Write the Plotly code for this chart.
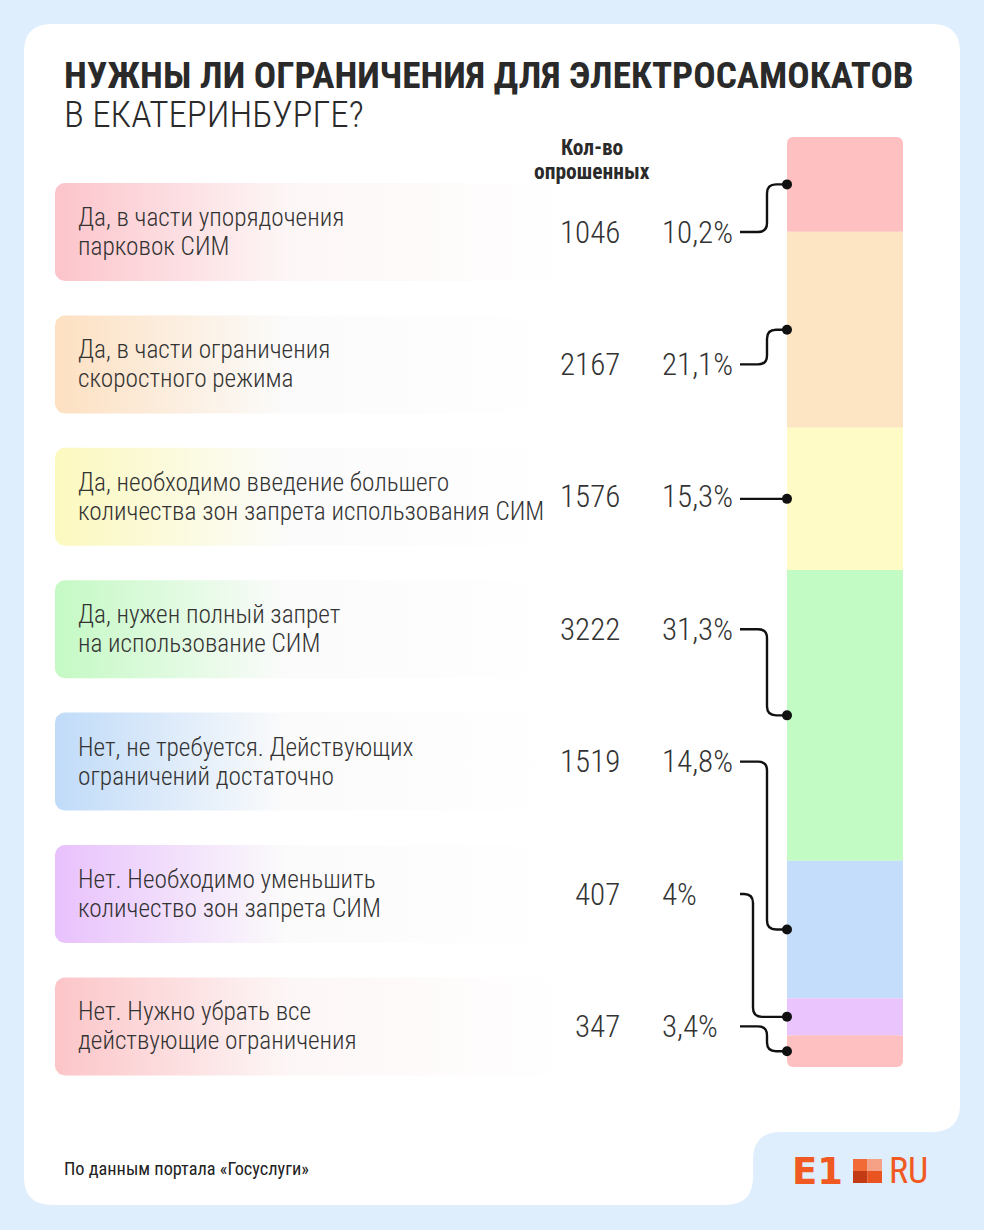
import numpy as np
import plotly.graph_objects as go

# ---------------- data ----------------
categories = [
    "Да, в части упорядочения<br>парковок СИМ",
    "Да, в части ограничения<br>скоростного режима",
    "Да, необходимо введение большего<br>количества зон запрета использования СИМ",
    "Да, нужен полный запрет<br>на использование СИМ",
    "Нет, не требуется. Действующих<br>ограничений достаточно",
    "Нет. Необходимо уменьшить<br>количество зон запрета СИМ",
    "Нет. Нужно убрать все<br>действующие ограничения",
]
respondents = [1046, 2167, 1576, 3222, 1519, 407, 347]
percent = [10.2, 21.1, 15.3, 31.3, 14.8, 4.0, 3.4]
percent_labels = ["10,2%", "21,1%", "15,3%", "31,3%", "14,8%", "4%", "3,4%"]

title_line1 = "НУЖНЫ ЛИ ОГРАНИЧЕНИЯ ДЛЯ ЭЛЕКТРОСАМОКАТОВ"
title_line2 = "В ЕКАТЕРИНБУРГЕ?"
column_header = ["Кол-во", "опрошенных"]
source_text = "По данным портала «Госуслуги»"

# ---------------- styles ----------------
W, H = 984, 1230
BG = "#dfeefc"
TEXT = "#333333"
FONT = "Roboto Condensed"
bar_colors = ["#fec0c1", "#fde5c3", "#fefbc6", "#c2fcc4", "#c3ddfa", "#eac4fd", "#fec0c1"]
box_colors = ["#fcc4cb", "#fde0c1", "#fcf9bf", "#c4f9c4", "#c0dbf9", "#e8c1fc", "#fcc5c8"]

BAR_TOP, BAR_BOTTOM = 137, 1067
BAR_LEFT, BAR_RIGHT = 787, 903
ROW0, ROW_STEP = 232, 132.4
BOX_LEFT, BOX_RIGHT, BOX_H = 55, 600, 98
turn_x = [767, 767, 767, 767, 767, 753, 767]
LINE_X0 = 740
LINE_GAP = 29

total = sum(percent)
k = total / (BAR_BOTTOM - BAR_TOP)  # y2 units per pixel

fig = go.Figure()

def rounded_rect(x0, y0, x1, y1, r, n=8):
    pts = []
    corners = [(x1 - r, y0 + r, -90, 0), (x1 - r, y1 - r, 0, 90),
               (x0 + r, y1 - r, 90, 180), (x0 + r, y0 + r, 180, 270)]
    for cx, cy, a0, a1 in corners:
        for a in np.linspace(np.radians(a0), np.radians(a1), n):
            pts.append((cx + r * np.cos(a), cy + r * np.sin(a)))
    pts.append(pts[0])
    xs, ys = zip(*pts)
    return list(xs), list(ys)

# card background
R = 28
CX0, CY0, CX1, CY1 = 24, 24, 960, 1132
NX, NY = 753, 1205
card_path = (
    f"M {CX0+R},{CY0} L {CX1-R},{CY0} Q {CX1},{CY0} {CX1},{CY0+R} "
    f"L {CX1},{CY1-R} Q {CX1},{CY1} {CX1-R},{CY1} "
    f"L {NX+R},{CY1} Q {NX},{CY1} {NX},{CY1+R} "
    f"L {NX},{NY-R} Q {NX},{NY} {NX-R},{NY} "
    f"L {CX0+R},{NY} Q {CX0},{NY} {CX0},{NY-R} "
    f"L {CX0},{CY0+R} Q {CX0},{CY0} {CX0+R},{CY0} Z"
)
shapes = [dict(type="path", path=card_path, xref="x", yref="y",
               fillcolor="white", line=dict(width=0), layer="below")]

annotations = []

def txt(x, y, text, size, weight=400, anchor="left", color=TEXT, family=FONT):
    annotations.append(dict(x=x, y=y, xref="x", yref="y", text=text, showarrow=False,
                            xanchor=anchor, yanchor="middle",
                            font=dict(family=family, size=size, color=color, weight=weight)))

# rows
for i, (cat, n, pl) in enumerate(zip(categories, respondents, percent_labels)):
    cy = ROW0 + ROW_STEP * i
    xs, ys = rounded_rect(BOX_LEFT, cy - BOX_H / 2, BOX_RIGHT, cy + BOX_H / 2, 10)
    fig.add_trace(go.Scatter(
        x=xs, y=ys, mode="lines", fill="toself", line=dict(width=0),
        fillgradient=dict(type="horizontal", start=BOX_LEFT, stop=570,
                          colorscale=[[0, box_colors[i]], [0.45, "#fdf6f6" if i in (0, 6) else "#fbfbfb"], [1, "white"]]),
        hoverinfo="skip", showlegend=False, xaxis="x", yaxis="y"))
    lines = cat.split("<br>")
    for j, line in enumerate(lines):
        ly = cy + (j - (len(lines) - 1) / 2) * LINE_GAP
        txt(76, ly, line, 25.3, 300)
    txt(622, cy, str(n), 31, 300, anchor="right")
    txt(660, cy, pl, 31, 300)

# stacked bar (percent axis y2)
cum = np.concatenate([[0], np.cumsum(percent)[:-1]])
centers = cum + np.array(percent) / 2
last = len(percent) - 1
XC, BW = (BAR_LEFT + BAR_RIGHT) / 2, BAR_RIGHT - BAR_LEFT

def add_bar(base, val, color, cr):
    fig.add_trace(go.Bar(x=[XC], y=[val], base=[base], width=[BW],
                         marker=dict(color=color, cornerradius=cr, line=dict(width=0)),
                         xaxis="x", yaxis="y2", hoverinfo="skip", showlegend=False))

for i, p in enumerate(percent):
    if i == 0:
        add_bar(cum[i] + p, -p, bar_colors[i], 6)          # rounded at the top end
        add_bar(cum[i] + p / 2, p / 2, bar_colors[i], 0)   # square lower half
    elif i == last:
        add_bar(cum[i], p, bar_colors[i], 6)               # rounded at the bottom end
        add_bar(cum[i], p / 2, bar_colors[i], 0)           # square upper half
    else:
        add_bar(cum[i], p, bar_colors[i], 0)

# connectors
r = 9
for i in range(len(percent)):
    yl_px = ROW0 + ROW_STEP * i
    yl = (yl_px - BAR_TOP) * k
    yd = centers[i]
    xt = turn_x[i]
    if abs(yd - yl) < 2 * r * k:
        path = f"M {LINE_X0},{yd} L {BAR_LEFT},{yd}"
    else:
        s = 1 if yd > yl else -1
        path = (f"M {LINE_X0},{yl} L {xt-r},{yl} Q {xt},{yl} {xt},{yl+s*r*k} "
                f"L {xt},{yd-s*r*k} Q {xt},{yd} {xt+r},{yd} L {BAR_LEFT},{yd}")
    shapes.append(dict(type="path", path=path, xref="x", yref="y2",
                       line=dict(color="#111111", width=2.4)))

fig.add_trace(go.Scatter(x=[BAR_LEFT] * len(centers), y=list(centers), mode="markers",
                         marker=dict(color="#111111", size=10), cliponaxis=False,
                         xaxis="x", yaxis="y2", hoverinfo="skip", showlegend=False))

# titles and notes
txt(62, 75, title_line1, 37.2, 700, color="#2a2a2a")
txt(62, 114, title_line2, 37, 300, color="#2a2a2a")
txt(592, 147, column_header[0], 21.5, 700, anchor="center", color="#2a2a2a")
txt(592, 171, column_header[1], 21.5, 700, anchor="center", color="#2a2a2a")
txt(62, 1168, source_text, 18.3, 400, color="#222222")
txt(790, 1171, "E1", 37, 700, color="#f05a22", family="DejaVu Sans")
txt(887, 1171, "RU", 36, 400, color="#f05a22", family="Roboto Condensed")

# logo squares
lx0, ly0, sw, sh = 853, 1159, 14.5, 12
for (dx, dy, c) in [(0, 0, "#f26a36"), (1, 0, "#f6a085"), (0, 1, "#c23b14"), (1, 1, "#ea5420")]:
    shapes.append(dict(type="rect", xref="x", yref="y", x0=lx0 + dx * sw, x1=lx0 + (dx + 1) * sw,
                       y0=ly0 + dy * sh, y1=ly0 + (dy + 1) * sh, fillcolor=c, line=dict(width=0)))

fig.update_layout(
    width=W, height=H, margin=dict(l=0, r=0, t=0, b=0),
    paper_bgcolor=BG, plot_bgcolor="rgba(0,0,0,0)",
    barmode="overlay", showlegend=False,
    xaxis=dict(range=[0, W], domain=[0, 1], visible=False, fixedrange=True),
    yaxis=dict(range=[H, 0], domain=[0, 1], visible=False, fixedrange=True),
    yaxis2=dict(range=[total, 0], domain=[(H - BAR_BOTTOM) / H, (H - BAR_TOP) / H],
                anchor="x", visible=False, fixedrange=True),
    shapes=shapes, annotations=annotations,
    font=dict(family=FONT),
)

fig.write_html("out.html", config={"displayModeBar": False},
               post_script="document.body.style.margin='0';document.body.style.overflow='hidden';")
